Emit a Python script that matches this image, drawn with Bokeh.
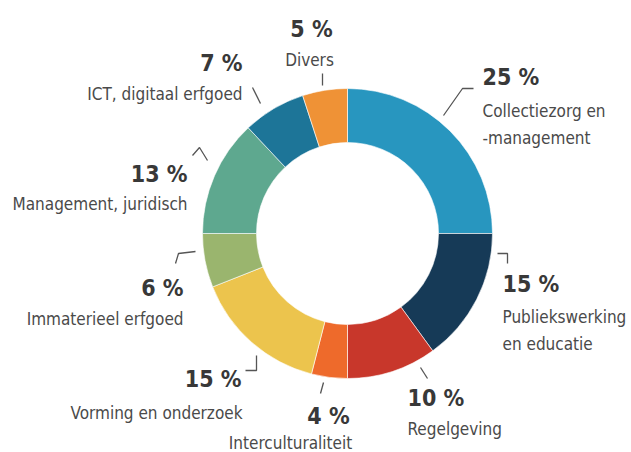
import numpy as np
from bokeh.plotting import figure
from bokeh.models import Range1d
from bokeh.core.properties import value
from bokeh.embed import file_html
from bokeh.resources import INLINE

# ---- data (clockwise from 12 o'clock) ----
categories = ["Collectiezorg en\n-management", "Publiekswerking\nen educatie", "Regelgeving",
              "Interculturaliteit", "Vorming en onderzoek", "Immaterieel erfgoed",
              "Management, juridisch", "ICT, digitaal erfgoed", "Divers"]
shares = [25, 15, 10, 4, 15, 6, 13, 7, 5]
colors = ["#2896bf", "#163a57", "#c8372b", "#ee6a2b", "#ecc44d", "#9ab56e",
          "#5ea88f", "#1d7598", "#ef9236"]

# ---- layout (image pixel coordinates, y downward) ----
W, H = 631, 452
CX, CY = 347, 233
R_OUT, R_IN = 145, 91

pct_pos = [(482, 76), (502, 283), (407, 397), (328, 415), (241, 378),
           (183, 287), (187, 173), (242, 62), (311, 28)]
lab_pos = [(482, 110), (502, 316), (407, 428), (290, 442), (242, 412),
           (183, 318), (187, 203), (242, 93), (309, 59)]
aligns = ["left", "left", "left", "center", "right", "right", "right", "right", "center"]
leaders = [
    [(443, 115), (462, 88), (473, 88)],
    [(497, 253), (507, 253), (507, 263)],
    [(420, 367), (427, 378)],
    [(323, 382), (320, 393)],
    [(245, 370), (256, 370), (256, 355)],
    [(175, 263), (178, 253), (195, 251)],
    [(192, 155), (199, 147), (207, 160)],
    [(252, 87), (260, 103)],
    [(322, 73), (322, 85)],
]
LINE_H = 27

def fy(y):
    return H - y

p = figure(width=W, height=H, output_backend="svg", toolbar_location=None,
           x_range=Range1d(0, W), y_range=Range1d(0, H),
           x_axis_location=None, y_axis_location=None, min_border=0)
p.grid.visible = False
p.outline_line_color = None
p.background_fill_color = "white"

frac = np.array(shares, dtype=float) / sum(shares)
cum = np.concatenate([[0], np.cumsum(frac)])
starts = np.pi / 2 - cum[:-1] * 2 * np.pi
ends = np.pi / 2 - cum[1:] * 2 * np.pi

p.annular_wedge(x=CX, y=fy(CY), inner_radius=R_IN, outer_radius=R_OUT,
                start_angle=starts, end_angle=ends, direction="clock",
                fill_color=colors, line_color="white", line_width=0.6)

font = value("DejaVu Sans Condensed")
for i, cat in enumerate(categories):
    px, py = pct_pos[i]
    p.text(x=[px], y=[fy(py)], text=[f"{shares[i]} %"], text_align=aligns[i],
           text_baseline="middle", text_font=font, text_font_size="23px",
           text_font_style="bold", text_color="#383838")
    lx, ly = lab_pos[i]
    for j, line in enumerate(cat.split("\n")):
        p.text(x=[lx], y=[fy(ly + j * LINE_H)], text=[line], text_align=aligns[i],
               text_baseline="middle", text_font=font, text_font_size="17px",
               text_color="#4a4a4a")
    pts = leaders[i]
    p.line(x=[a for a, b in pts], y=[fy(b) for a, b in pts], line_color="#555555",
           line_width=1.3)

open("out.html", "w").write(file_html(p, INLINE))
